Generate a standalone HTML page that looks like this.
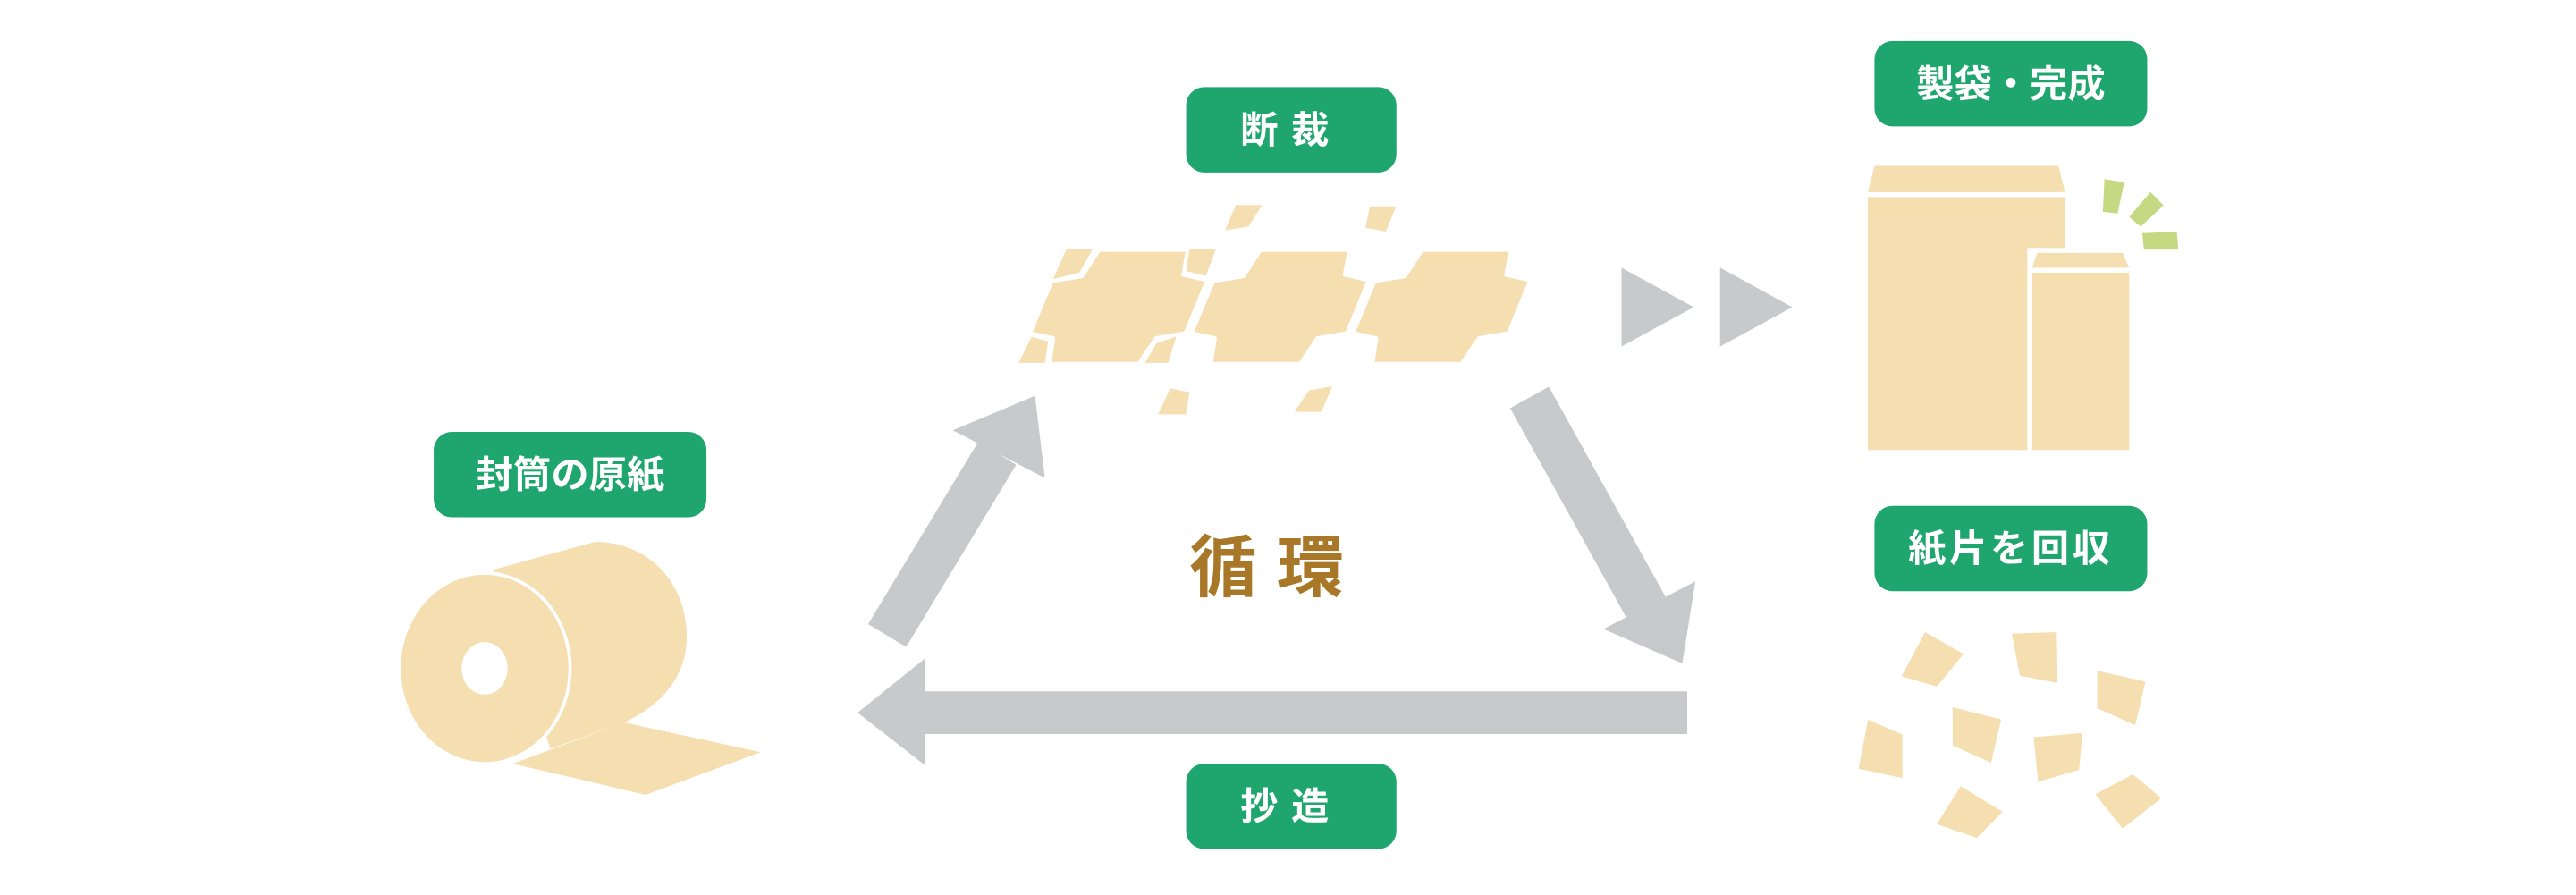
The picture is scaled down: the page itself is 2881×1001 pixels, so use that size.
<!DOCTYPE html>
<html><head><meta charset="utf-8"><style>
html,body{margin:0;padding:0;background:#fff;}
svg{display:block;}
text{font-family:"Liberation Sans","Noto Sans CJK JP",sans-serif;font-weight:bold;}
</style></head><body>
<svg width="2881" height="1001" viewBox="0 0 1568 545" preserveAspectRatio="none" xmlns="http://www.w3.org/2000/svg">
<g fill="#1fa56e">
<rect x="264" y="263" width="166" height="52" rx="11"/>
<rect x="722" y="53" width="128" height="52" rx="11"/>
<rect x="1141" y="25" width="166" height="52" rx="11"/>
<rect x="1141" y="308" width="166" height="52" rx="11"/>
<rect x="722" y="465" width="128" height="52" rx="11"/>
</g>
<g fill="#fff" font-size="23" text-anchor="middle">
<text x="347" y="297">封筒の原紙</text>
<text x="786" y="87" letter-spacing="8">断裁</text>
<text x="1224" y="59">製袋・完成</text>
<text x="1224" y="342" letter-spacing="2">紙片を回収</text>
<text x="786" y="499" letter-spacing="8">抄造</text>
</g>
<text x="777" y="360" font-size="41" fill="#a87828" text-anchor="middle" letter-spacing="12">循環</text>

<!-- roll -->
<g fill="#f5deb0">
<path d="M300,347 L362,330 C395,330 418,355 418,388 C418,410 405,428 380,440 L335,456 Z"/>
<ellipse cx="295" cy="407" rx="53" ry="59" fill="#fff"/>
<ellipse cx="295" cy="407" rx="51" ry="57"/>
<polygon points="312,465 380,440 463,458 393,484"/>
</g>
<ellipse cx="295" cy="407" rx="14" ry="16" fill="#fff"/>

<!-- arrows -->
<g fill="#c8c9cb">
<rect x="563" y="421" width="464" height="26"/>
<polygon points="563,401 522,434 563,466"/>
<line x1="540" y1="387" x2="607" y2="276" stroke="#c8c9cb" stroke-width="27"/>
<polygon points="580,262 630,241 636,291"/>
<line x1="931" y1="242" x2="1002" y2="370" stroke="#c8c9cb" stroke-width="27"/>
<polygon points="976,383 1032,354 1024,404"/>
<polygon points="987,163 1031,187 987,211"/>
<polygon points="1047,163 1091,187 1047,211"/>
</g>

<!-- cut tiles -->
<g fill="#f5deb0" stroke="#fff" stroke-width="2.5" stroke-linejoin="round">
<polygon points="767.2,152.1 821.4,152.1 818.6,167.3 833.2,170.6 820,202.9 801.9,206 791.5,221.6 737,221.6 739.4,206 725.2,202.9 738.4,171.1 756.8,168.2"/>
<polygon transform="translate(-98.3,0)" points="767.2,152.1 821.4,152.1 818.6,167.3 833.2,170.6 820,202.9 801.9,206 791.5,221.6 737,221.6 739.4,206 725.2,202.9 738.4,171.1 756.8,168.2"/>
<polygon transform="translate(98.3,0)" points="767.2,152.1 821.4,152.1 818.6,167.3 833.2,170.6 820,202.9 801.9,206 791.5,221.6 737,221.6 739.4,206 725.2,202.9 738.4,171.1 756.8,168.2"/>
</g>
<g fill="#f5deb0">
<polygon points="649,152 665,152 657,166 641,170"/>
<polygon points="724,152 740,152 734,168 722,165"/>
<polygon points="628,205 638,208 636,221 620,221"/>
<polygon points="704,209 716,205 711,221 697,221"/>
<polygon points="752.3,124.8 768.2,124.8 760,137.9 745.7,140.3"/>
<polygon points="833.9,125.6 849.8,125.6 843.6,141 831.1,138.6"/>
<polygon points="712.3,236.5 724.1,238.8 721.7,252.3 705,252.3"/>
<polygon points="796.7,237.7 811,235.2 804.3,250.8 788,250.8"/>
</g>

<!-- envelopes -->
<g fill="#f5deb0">
<polygon points="1141,101 1253,101 1257,117 1137,117"/>
<rect x="1137" y="120" width="120" height="154"/>
<rect x="1234" y="151" width="65" height="124" fill="#fff"/>
<polygon points="1240,154 1292,154 1296,163 1237,163"/>
<rect x="1237" y="166" width="59" height="108"/>
</g>
<g fill="#c5d982">
<polygon points="1281,109 1293,111 1289,130 1280,129"/>
<polygon points="1309,117 1317,125 1303,138 1296,132"/>
<polygon points="1304,142 1325,141 1326,152 1305,152"/>
</g>

<!-- scraps -->
<g fill="#f5deb0">
<polygon points="1171.8,385 1195.2,398.2 1179,418.1 1157.4,411.8"/>
<polygon points="1224.6,385.9 1251.4,384.9 1252,415.8 1229.5,411.5"/>
<polygon points="1276.6,408.5 1306,415.1 1299.7,441.6 1276.6,431.3"/>
<polygon points="1137.1,438.3 1158,447.3 1158,473.8 1131.3,468.1"/>
<polygon points="1188.6,430.7 1218.1,438 1212,464.5 1188.6,453.9"/>
<polygon points="1237.9,448.9 1267.6,446.3 1265.5,468.8 1240.6,476.1"/>
<polygon points="1193.4,478.7 1219,494.3 1203.3,510.2 1179,501.9"/>
<polygon points="1298.3,471.5 1315.6,486 1292.1,504.6 1275.4,483.7"/>
</g>
</svg>
</body></html>
